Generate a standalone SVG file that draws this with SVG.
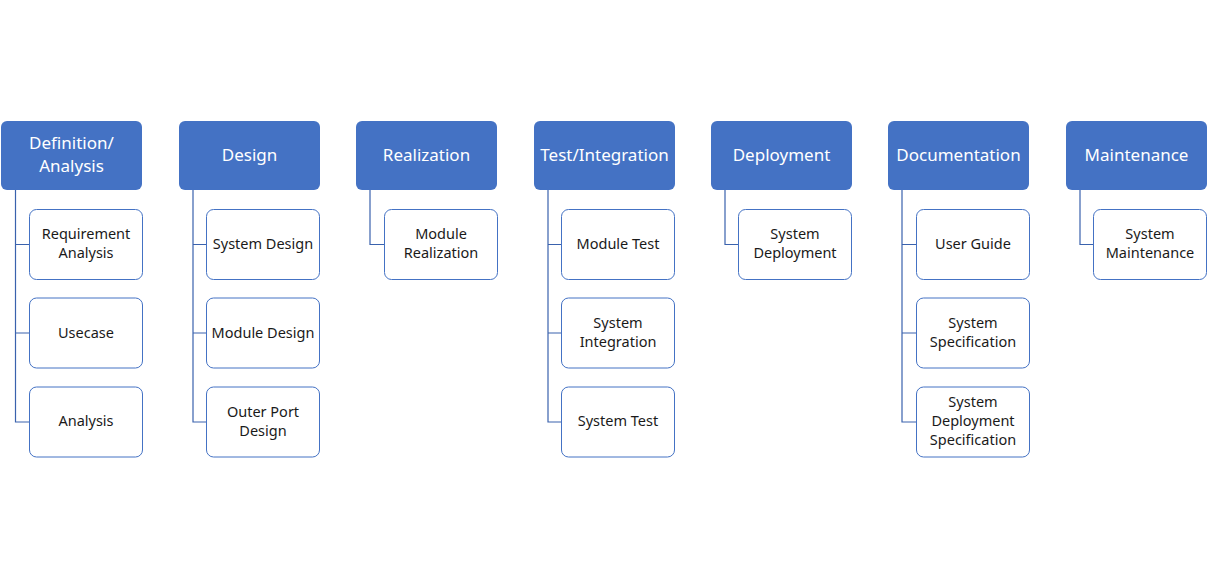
<svg xmlns="http://www.w3.org/2000/svg" width="1208" height="576" viewBox="0 0 1208 576">
<style>
.h{fill:#4472C4;}
.ht{fill:#fff;font-family:"Noto Sans",sans-serif;font-size:17px;text-anchor:middle;}
.c{fill:#fff;stroke:#4472C4;stroke-width:1;}
.ct{fill:#1a1a1a;font-family:"Noto Sans",sans-serif;font-size:14.5px;text-anchor:middle;}
.ln{fill:none;stroke:#3A62AD;stroke-width:1.2;}
</style>
<rect width="1208" height="576" fill="#fff"/>
<g id="connectors">
<path class="ln" d="M15.5 190V422.5M15.5 244.5H29.5M15.5 333H29.5M15.5 422H29.5"/>
<path class="ln" d="M193 190V422.5M193 244.5H206.5M193 333H206.5M193 422H206.5"/>
<path class="ln" d="M370 190V244.5H384.5"/>
<path class="ln" d="M548 190V422.5M548 244.5H561.5M548 333H561.5M548 422H561.5"/>
<path class="ln" d="M725 190V244.5H738.5"/>
<path class="ln" d="M902 190V422.5M902 244.5H916.5M902 333H916.5M902 422H916.5"/>
<path class="ln" d="M1080 190V244.5H1093.5"/>
</g>
<g id="n1"><rect class="h" x="1" y="121" width="141" height="69" rx="6"/><text class="ht" x="71.5" y="149">Definition/</text><text class="ht" x="71.5" y="172">Analysis</text></g>
<g id="n2"><rect class="h" x="179" y="121" width="141" height="69" rx="6"/><text class="ht" x="249.5" y="161">Design</text></g>
<g id="n3"><rect class="h" x="356" y="121" width="141" height="69" rx="6"/><text class="ht" x="426.5" y="161">Realization</text></g>
<g id="n4"><rect class="h" x="534" y="121" width="141" height="69" rx="6"/><text class="ht" x="604.5" y="161">Test/Integration</text></g>
<g id="n5"><rect class="h" x="711" y="121" width="141" height="69" rx="6"/><text class="ht" x="781.5" y="161">Deployment</text></g>
<g id="n6"><rect class="h" x="888" y="121" width="141" height="69" rx="6"/><text class="ht" x="958.5" y="161">Documentation</text></g>
<g id="n7"><rect class="h" x="1066" y="121" width="141" height="69" rx="6"/><text class="ht" x="1136.5" y="161">Maintenance</text></g>

<g id="c1a"><rect class="c" x="29.5" y="209.5" width="113" height="70" rx="7"/><text class="ct" x="86" y="239">Requirement</text><text class="ct" x="86" y="258">Analysis</text></g>
<g id="c1b"><rect class="c" x="29.5" y="298" width="113" height="70" rx="7"/><text class="ct" x="86" y="338">Usecase</text></g>
<g id="c1c"><rect class="c" x="29.5" y="387" width="113" height="70" rx="7"/><text class="ct" x="86" y="426">Analysis</text></g>

<g id="c2a"><rect class="c" x="206.5" y="209.5" width="113" height="70" rx="7"/><text class="ct" x="263" y="249">System Design</text></g>
<g id="c2b"><rect class="c" x="206.5" y="298" width="113" height="70" rx="7"/><text class="ct" x="263" y="338">Module Design</text></g>
<g id="c2c"><rect class="c" x="206.5" y="387" width="113" height="70" rx="7"/><text class="ct" x="263" y="417">Outer Port</text><text class="ct" x="263" y="436">Design</text></g>

<g id="c3a"><rect class="c" x="384.5" y="209.5" width="113" height="70" rx="7"/><text class="ct" x="441" y="239">Module</text><text class="ct" x="441" y="258">Realization</text></g>

<g id="c4a"><rect class="c" x="561.5" y="209.5" width="113" height="70" rx="7"/><text class="ct" x="618" y="249">Module Test</text></g>
<g id="c4b"><rect class="c" x="561.5" y="298" width="113" height="70" rx="7"/><text class="ct" x="618" y="328">System</text><text class="ct" x="618" y="347">Integration</text></g>
<g id="c4c"><rect class="c" x="561.5" y="387" width="113" height="70" rx="7"/><text class="ct" x="618" y="426">System Test</text></g>

<g id="c5a"><rect class="c" x="738.5" y="209.5" width="113" height="70" rx="7"/><text class="ct" x="795" y="239">System</text><text class="ct" x="795" y="258">Deployment</text></g>

<g id="c6a"><rect class="c" x="916.5" y="209.5" width="113" height="70" rx="7"/><text class="ct" x="973" y="249">User Guide</text></g>
<g id="c6b"><rect class="c" x="916.5" y="298" width="113" height="70" rx="7"/><text class="ct" x="973" y="328">System</text><text class="ct" x="973" y="347">Specification</text></g>
<g id="c6c"><rect class="c" x="916.5" y="387" width="113" height="70" rx="7"/><text class="ct" x="973" y="407">System</text><text class="ct" x="973" y="426">Deployment</text><text class="ct" x="973" y="445">Specification</text></g>

<g id="c7a"><rect class="c" x="1093.5" y="209.5" width="113" height="70" rx="7"/><text class="ct" x="1150" y="239">System</text><text class="ct" x="1150" y="258">Maintenance</text></g>
</svg>
